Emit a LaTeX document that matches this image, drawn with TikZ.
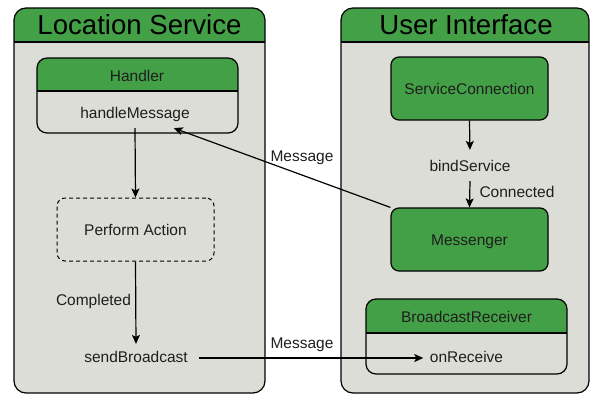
\documentclass[tikz,border=0pt]{standalone}
\usepackage{fontspec}
\setmainfont{Liberation Sans}
\usetikzlibrary{arrows.meta}
\definecolor{boxgreen}{RGB}{67,160,71}
\definecolor{panelgray}{RGB}{221,221,216}
\definecolor{inkgray}{RGB}{30,30,30}
\begin{document}
\begin{tikzpicture}[x=1pt,y=-1pt,line width=1.2pt,
 lbl/.style={font=\fontsize{15.5}{18}\selectfont,text=inkgray,text height=11.5pt,text depth=3.5pt,inner sep=6pt},
 ttl/.style={font=\fontsize{27.6}{30}\selectfont,text=black,inner sep=0pt},
 greenbox/.style={lbl,text depth=0pt,draw,fill=boxgreen,rounded corners=8,minimum width=157pt,minimum height=63pt},
 actbox/.style={lbl,text depth=0pt,draw,dash pattern=on 4pt off 3pt,line width=1pt,rounded corners=8,minimum width=157pt,minimum height=63pt},
 arr/.style={-{Stealth[length=9pt,width=8pt,inset=2pt]}}]
 \useasboundingbox (0,0) rectangle (590,394);
 \begin{scope}
 \clip[rounded corners=12] (14,8) rectangle (265,393);
 \fill[panelgray] (14,8) rectangle (265,393);
 \fill[boxgreen] (14,8) rectangle (265,42);
 \end{scope}
 \draw[rounded corners=12] (14,8) rectangle (265,393);
 \draw (14,42) -- (265,42);
 \begin{scope}
 \clip[rounded corners=12] (341,8) rectangle (589,393);
 \fill[panelgray] (341,8) rectangle (589,393);
 \fill[boxgreen] (341,8) rectangle (589,42);
 \end{scope}
 \draw[rounded corners=12] (341,8) rectangle (589,393);
 \draw (341,42) -- (589,42);
 \node[ttl] (lstitle) at (139.5,25) {Location Service};
 \node[ttl] (uititle) at (466,25) {User Interface};
 \begin{scope}
 \clip[rounded corners=10] (37,58) rectangle (238,133);
 \fill[boxgreen] (37,58) rectangle (238,91);
 \end{scope}
 \draw[rounded corners=10] (37,58) rectangle (238,133);
 \draw (37,91) -- (238,91);
 \begin{scope}
 \clip[rounded corners=10] (366,299) rectangle (567,374);
 \fill[boxgreen] (366,299) rectangle (567,333);
 \end{scope}
 \draw[rounded corners=10] (366,299) rectangle (567,374);
 \draw (366,333) -- (567,333);
 \node[lbl] (handler) at (137,77) {Handler};
 \node[lbl] (hm) at (135,114) {handleMessage};
 \node[actbox] (act) at (135.5,229.5) {Perform Action};
 \node[lbl] (done) at (93.5,301) {Completed};
 \node[lbl] (sb) at (136,358) {sendBroadcast};
 \node[greenbox] (sc) at (469.5,88.5) {ServiceConnection};
 \node[lbl] (bs) at (470,167) {bindService};
 \node[lbl] (conn) at (517,193) {Connected};
 \node[greenbox] (msgr) at (469.5,239.5) {Messenger};
 \node[lbl] (br) at (466.5,318) {BroadcastReceiver};
 \node[lbl] (recv) at (466.5,358) {onReceive};
 \node[lbl] (msgtop) at (302,157) {Message};
 \node[lbl] (msgbot) at (302,344) {Message};
 \draw[arr] (hm.south) -- (act.north);
 \draw[arr] (act.south) -- (sb.north);
 \draw[arr,shorten >=3pt] (sc.south) -- (bs.north);
 \draw[arr] (bs.south) -- (msgr.north);
 \draw[arr] (msgr.north west) -- (hm.-20);
 \draw[arr,shorten <=5pt] (sb.east) -- (recv.west);
\end{tikzpicture}
\end{document}
